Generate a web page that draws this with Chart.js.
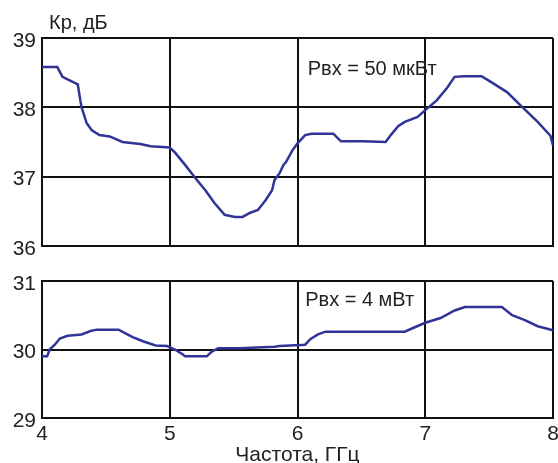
<!DOCTYPE html>
<html>
<head>
<meta charset="utf-8">
<script src="https://cdn.jsdelivr.net/npm/chart.js@4/dist/chart.umd.min.js"></script>
<style>
  html, body { margin: 0; padding: 0; background: #fff; overflow: hidden; }
  body { width: 558px; height: 463px; position: relative; }
  canvas { position: absolute; left: 0; }
  #topChart { top: 0; }
  #bottomChart { top: 265px; }
</style>
</head>
<body>
<canvas id="topChart" width="558" height="265"></canvas>
<canvas id="bottomChart" width="558" height="203"></canvas>
<script>
// tick labels
const xTicks = [4, 5, 6, 7, 8];
const yTicksTop = [36, 37, 38, 39];
const yTicksBottom = [29, 30, 31];

// top panel, Pвх = 50 мкВт
const freqTop = [4.00, 4.12, 4.16, 4.28, 4.30, 4.31, 4.35, 4.39, 4.45, 4.53, 4.63, 4.77, 4.85, 5.00,
  5.04, 5.12, 5.20, 5.28, 5.35, 5.43, 5.51, 5.57, 5.63, 5.69, 5.75, 5.80, 5.82, 5.86, 5.89, 5.91,
  5.96, 6.00, 6.06, 6.11, 6.28, 6.34, 6.51, 6.69, 6.73, 6.79, 6.84, 6.94, 7.00, 7.09, 7.17, 7.23,
  7.30, 7.44, 7.51, 7.64, 7.75, 7.88, 7.98, 8.00];
const gainTop = [38.58, 38.58, 38.44, 38.33, 38.10, 38.00, 37.77, 37.67, 37.60, 37.58, 37.50, 37.47, 37.44, 37.42,
  37.35, 37.17, 36.98, 36.80, 36.62, 36.45, 36.42, 36.42, 36.48, 36.52, 36.66, 36.80, 36.95, 37.05, 37.17, 37.21,
  37.38, 37.48, 37.60, 37.62, 37.62, 37.51, 37.51, 37.50, 37.60, 37.73, 37.79, 37.86, 37.96, 38.10, 38.28, 38.44,
  38.45, 38.45, 38.37, 38.22, 38.02, 37.79, 37.59, 37.45];

// bottom panel, Pвх = 4 мВт
const freqBottom = [4.00, 4.04, 4.06, 4.10, 4.14, 4.20, 4.31, 4.38, 4.43, 4.60, 4.65, 4.71, 4.79, 4.89,
  4.98, 5.04, 5.10, 5.12, 5.29, 5.33, 5.38, 5.55, 5.82, 5.86, 6.06, 6.10, 6.16, 6.22, 6.84, 6.90,
  7.00, 7.12, 7.23, 7.31, 7.60, 7.68, 7.78, 7.88, 7.94, 8.00];
const gainBottom = [29.90, 29.90, 30.00, 30.07, 30.16, 30.20, 30.22, 30.27, 30.29, 30.29, 30.24, 30.18, 30.12, 30.06,
  30.05, 30.00, 29.93, 29.90, 29.90, 29.97, 30.02, 30.02, 30.04, 30.05, 30.07, 30.15, 30.22, 30.26, 30.26, 30.31,
  30.39, 30.46, 30.57, 30.62, 30.62, 30.50, 30.43, 30.34, 30.31, 30.28];

const lineColor = 'rgb(48, 52, 150)';
const gridColor = '#111';
const fontFamily = '"Liberation Sans", Arial, sans-serif';

// text labels drawn on top of the plot (position in data units)
function labelPlugin(text, xVal, yVal, extra) {
    return {
        id: 'labels',
        afterDraw(chart) {
            const ctx = chart.ctx;
            ctx.save();
            ctx.fillStyle = '#222';
            ctx.font = '20px ' + fontFamily;
            ctx.textAlign = 'left';
            ctx.textBaseline = 'middle';
            ctx.fillText(text, chart.scales.x.getPixelForValue(xVal), chart.scales.y.getPixelForValue(yVal));
            if (extra) {
                ctx.textBaseline = 'alphabetic';
                ctx.fillText(extra, chart.chartArea.left + 7, 29);
            }
            ctx.restore();
        }
    };
}

function makeChart(canvasId, freq, gain, yTicks, showX, padding, xHeight, plugin) {
    const ctx = document.getElementById(canvasId).getContext('2d');
    return new Chart(ctx, {
        type: 'line',
        data: {
            datasets: [{
                data: freq.map((f, i) => ({ x: f, y: gain[i] })),
                borderColor: lineColor,
                borderWidth: 2.5,
                pointRadius: 0,
                tension: 0,
                fill: false
            }]
        },
        options: {
            responsive: false,
            animation: false,
            layout: { padding: padding },
            plugins: {
                legend: { display: false },
                tooltip: { enabled: false }
            },
            scales: {
                x: {
                    type: 'linear',
                    min: 4,
                    max: 8,
                    afterBuildTicks: (scale) => { scale.ticks = xTicks.map(v => ({ value: v })); },
                    afterFit: (scale) => {
                        scale.height = xHeight;
                        scale.paddingLeft = 0;
                        scale.paddingRight = 0;
                    },
                    grid: { color: gridColor, lineWidth: 2, drawTicks: false },
                    border: { color: gridColor, width: 2 },
                    ticks: {
                        display: showX,
                        padding: 4,
                        color: '#222',
                        font: { size: 21, family: fontFamily }
                    },
                    title: {
                        display: showX,
                        text: 'Частота, ГГц',
                        color: '#222',
                        padding: { top: 0, bottom: 0 },
                        font: { size: 21, family: fontFamily }
                    }
                },
                y: {
                    min: yTicks[0],
                    max: yTicks[yTicks.length - 1],
                    afterBuildTicks: (scale) => { scale.ticks = yTicks.map(v => ({ value: v })); },
                    afterFit: (scale) => {
                        scale.width = 42;
                        scale.paddingTop = 0;
                        scale.paddingBottom = 0;
                    },
                    grid: { color: gridColor, lineWidth: 2, drawTicks: false },
                    border: { color: gridColor, width: 2 },
                    ticks: {
                        padding: 6,
                        labelOffset: 3,
                        color: '#222',
                        font: { size: 21, family: fontFamily }
                    }
                }
            }
        },
        plugins: [plugin]
    });
}

makeChart('topChart', freqTop, gainTop, yTicksTop, false,
    { top: 38, right: 5, bottom: 19, left: 0 }, 0,
    labelPlugin('Рвх = 50 мкВт', 6.08, 38.54, 'Кр, дБ'));

makeChart('bottomChart', freqBottom, gainBottom, yTicksBottom, true,
    { top: 16, right: 5, bottom: 0, left: 0 }, 50,
    labelPlugin('Рвх = 4 мВт', 6.06, 30.72));
</script>
</body>
</html>
